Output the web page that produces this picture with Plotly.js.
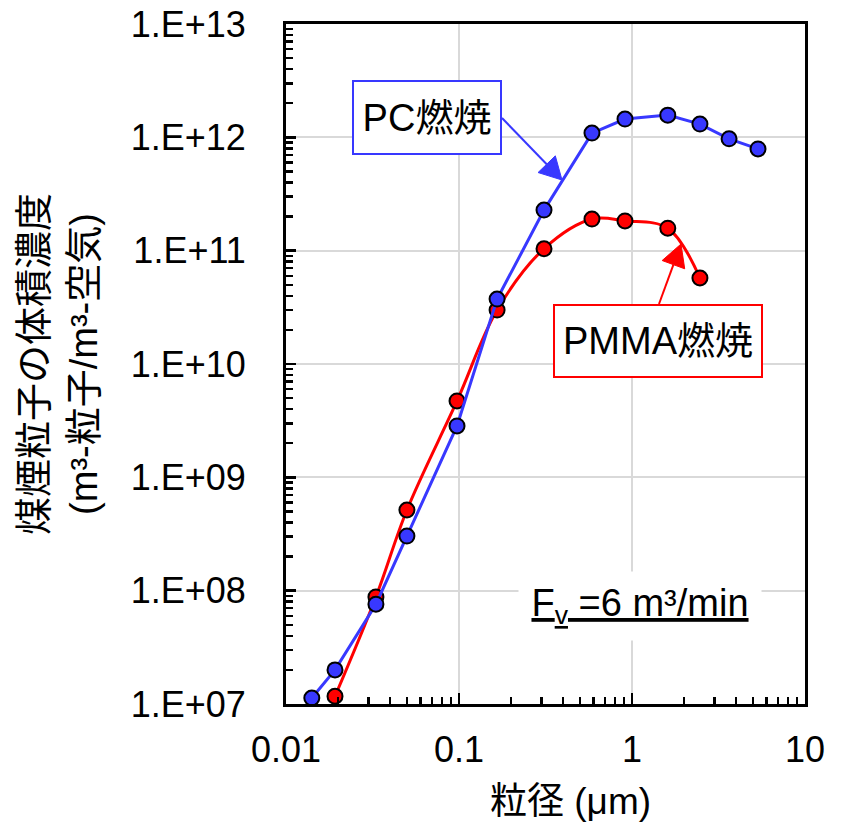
<!DOCTYPE html>
<html>
<head>
<meta charset="utf-8">
<script src="https://cdn.plot.ly/plotly-3.0.1.min.js"></script>
<style>html,body{margin:0;padding:0;background:#fff;}#chart{width:842px;height:823px;}</style>
</head>
<body>
<div id="chart"></div>
<script>
// Particle diameter (µm) and volume concentration (m3-particle / m3-air)
const pcDiameter   = [0.0141, 0.0192, 0.0331, 0.050, 0.0974, 0.166, 0.31, 0.587, 0.911, 1.61, 2.47, 3.64, 5.35];
const pcVolume     = [1.13e7, 2.0e7, 7.6e7, 3.03e8, 2.84e9, 3.74e10, 2.28e11, 1.09e12, 1.45e12, 1.57e12, 1.31e12, 9.7e11, 7.9e11];
const pmmaDiameter = [0.0192, 0.0331, 0.050, 0.0974, 0.166, 0.31, 0.587, 0.911, 1.61, 2.47];
const pmmaVolume   = [1.17e7, 8.8e7, 5.15e8, 4.72e9, 2.99e10, 1.04e11, 1.9e11, 1.83e11, 1.58e11, 5.74e10];

const yTickVals = [1e7, 1e8, 1e9, 1e10, 1e11, 1e12, 1e13];
const yTickText = ['1.E+07', '1.E+08', '1.E+09', '1.E+10', '1.E+11', '1.E+12', '1.E+13'];
const xTickVals = [0.01, 0.1, 1, 10];
const xTickText = ['0.01', '0.1', '1', '10'];

// minor tick positions (2..9 within each decade)
const multipliers = [2, 3, 4, 5, 6, 7, 8, 9];
const yMinor = [];
for (let e = 7; e < 13; e++) multipliers.forEach(m => yMinor.push(m * Math.pow(10, e)));
const xMinor = [];
for (let e = -2; e < 1; e++) multipliers.forEach(m => xMinor.push(m * Math.pow(10, e)));

const FONT = 'Liberation Sans, Arial, "Noto Sans CJK JP", sans-serif';
const BLUE = '#3838ff';
const RED = '#ff0000';

// plot-area geometry (px) used to place decorations in paper coords
const W = 842, H = 823, ML = 286, MR = 37, MT = 24, MB = 119;
const PW = W - ML - MR, PH = H - MT - MB;
const px = x => (x - ML) / PW;
const py = y => (H - MB - y) / PH;

function arrowShapes(tail, tip, color, headLen, headHalf) {
  const dx = tip[0] - tail[0], dy = tip[1] - tail[1];
  const L = Math.hypot(dx, dy), ux = dx / L, uy = dy / L;
  const bx = tip[0] - headLen * ux, by = tip[1] - headLen * uy;
  const c1 = [bx - headHalf * uy, by + headHalf * ux];
  const c2 = [bx + headHalf * uy, by - headHalf * ux];
  return [
    {type: 'line', xref: 'paper', yref: 'paper', x0: px(tail[0]), y0: py(tail[1]), x1: px(bx), y1: py(by),
     line: {color: color, width: 2}},
    {type: 'path', xref: 'paper', yref: 'paper',
     path: `M${px(tip[0])},${py(tip[1])} L${px(c1[0])},${py(c1[1])} L${px(c2[0])},${py(c2[1])} Z`,
     fillcolor: color, line: {color: color, width: 1}}
  ];
}

const traces = [
  {
    x: pmmaDiameter, y: pmmaVolume, type: 'scatter', mode: 'lines+markers',
    name: 'PMMA燃焼', cliponaxis: false,
    line: {color: RED, width: 3, shape: 'spline', smoothing: 1},
    marker: {color: RED, size: 15, line: {color: '#000', width: 2}}
  },
  {
    x: pcDiameter, y: pcVolume, type: 'scatter', mode: 'lines+markers',
    name: 'PC燃焼', cliponaxis: false,
    line: {color: BLUE, width: 3},
    marker: {color: BLUE, size: 15, line: {color: '#000', width: 2}}
  }
];

const layout = {
  width: W, height: H,
  paper_bgcolor: '#fff', plot_bgcolor: '#fff',
  margin: {l: ML, r: MR, t: MT, b: MB},
  showlegend: false,
  font: {family: FONT, size: 36, color: '#000'},
  xaxis: {
    type: 'log', range: [-2, 1], autorange: false,
    tickmode: 'array', tickvals: xTickVals, ticktext: xTickText,
    ticks: 'inside', ticklen: 11, tickwidth: 2.5, tickcolor: '#000',
    minor: {tickmode: 'array', tickvals: xMinor, ticks: 'inside', ticklen: 7, tickwidth: 2.5, tickcolor: '#000', showgrid: false},
    showline: true, linecolor: '#000', linewidth: 3, mirror: true,
    showgrid: true, gridcolor: '#d9d9d9', gridwidth: 2,
    zeroline: false, ticklabelstandoff: 12,
    tickfont: {family: FONT, size: 36, color: '#000'}
  },
  yaxis: {
    type: 'log', range: [7, 13], autorange: false,
    tickmode: 'array', tickvals: yTickVals, ticktext: yTickText,
    ticks: 'inside', ticklen: 10, tickwidth: 2.5, tickcolor: '#000',
    minor: {tickmode: 'array', tickvals: yMinor, ticks: 'inside', ticklen: 7, tickwidth: 2.5, tickcolor: '#000', showgrid: false},
    showline: true, linecolor: '#000', linewidth: 3, mirror: true,
    showgrid: true, gridcolor: '#d9d9d9', gridwidth: 2,
    zeroline: false, ticklabelstandoff: 30,
    tickfont: {family: FONT, size: 36, color: '#000'},
    title: {text: '煤煙粒子の体積濃度<br>(m³-粒子/m³-空気)', font: {family: FONT, size: 38, color: '#000'}, standoff: 22}
  },
  shapes: [].concat(
    arrowShapes([502, 118], [562, 180], BLUE, 22, 12),
    arrowShapes([659, 304], [681, 244], RED, 22, 12)
  ),
  annotations: [
    {
      xref: 'paper', yref: 'paper', x: px(570), y: py(801), xanchor: 'center', yanchor: 'middle',
      text: '粒径 (μm)', showarrow: false, font: {family: FONT, size: 37, color: '#000'}
    },
    {
      xref: 'paper', yref: 'paper', x: px(427), y: py(117.5), xanchor: 'center', yanchor: 'middle',
      text: 'PC燃焼', showarrow: false, font: {family: FONT, size: 38, color: '#000'},
      width: 130, height: 55,
      bgcolor: '#fff', bordercolor: BLUE, borderwidth: 2, borderpad: 8
    },
    {
      xref: 'paper', yref: 'paper', x: px(658), y: py(341), xanchor: 'center', yanchor: 'middle',
      text: 'PMMA燃焼', showarrow: false, font: {family: FONT, size: 38, color: '#000'},
      width: 190, height: 54,
      bgcolor: '#fff', bordercolor: RED, borderwidth: 2, borderpad: 8
    },
    {
      xref: 'paper', yref: 'paper', x: px(640), y: py(606), xanchor: 'center', yanchor: 'middle',
      text: '<u>F<sub>v</sub> =6 m³/min</u>', showarrow: false,
      width: 226, height: 52,
      font: {family: FONT, size: 38, color: '#000'}, bgcolor: '#fff', borderpad: 8
    }
  ]
};

Plotly.newPlot('chart', traces, layout, {displayModeBar: false, staticPlot: true});
</script>
</body>
</html>
